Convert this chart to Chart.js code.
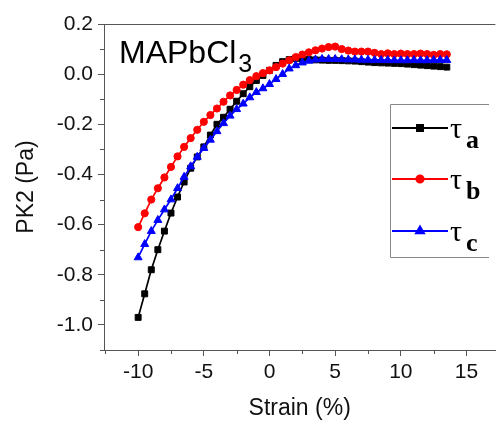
<!DOCTYPE html>
<html>
<head>
<meta charset="utf-8">
<script src="https://cdn.jsdelivr.net/npm/chart.js@4.4.1/dist/chart.umd.min.js"></script>
<style>
  html, body { margin: 0; padding: 0; background: #fff; }
</style>
</head>
<body>
<canvas id="chart" width="501" height="431"></canvas>
<script>
// strain values (%)
const strain = [-10, -9.5, -9, -8.5, -8, -7.5, -7, -6.5, -6, -5.5, -5, -4.5, -4, -3.5, -3, -2.5, -2, -1.5, -1, -0.5,
  0, 0.5, 1, 1.5, 2, 2.5, 3, 3.5, 4, 4.5, 5, 5.5, 6, 6.5, 7, 7.5, 8, 8.5, 9, 9.5,
  10, 10.5, 11, 11.5, 12, 12.5, 13, 13.5];

// PK2 stress (Pa)
const tauA = [-0.97, -0.876, -0.78, -0.70, -0.626, -0.554, -0.49, -0.43, -0.375, -0.33, -0.29, -0.243, -0.2, -0.172, -0.14, -0.108, -0.078, -0.05, -0.025, -0.005,
  0.015, 0.035, 0.05, 0.058, 0.063, 0.06, 0.058, 0.057, 0.056, 0.055, 0.055, 0.054, 0.053, 0.052, 0.05, 0.048, 0.046, 0.045, 0.044, 0.043,
  0.042, 0.04, 0.038, 0.036, 0.034, 0.032, 0.03, 0.028];

const tauB = [-0.61, -0.555, -0.50, -0.455, -0.412, -0.37, -0.328, -0.29, -0.255, -0.222, -0.19, -0.163, -0.137, -0.11, -0.085, -0.063, -0.042, -0.024, -0.008, 0.004,
  0.015, 0.028, 0.042, 0.055, 0.068, 0.078, 0.087, 0.095, 0.102, 0.108, 0.11, 0.1, 0.094, 0.09, 0.09, 0.09, 0.085, 0.08, 0.083, 0.08,
  0.082, 0.08, 0.08, 0.082, 0.08, 0.077, 0.08, 0.079];

const tauC = [-0.731, -0.678, -0.626, -0.582, -0.54, -0.5, -0.455, -0.41, -0.368, -0.33, -0.295, -0.262, -0.228, -0.196, -0.166, -0.14, -0.118, -0.093, -0.072, -0.057,
  -0.04, -0.02, 0.0, 0.022, 0.035, 0.046, 0.053, 0.058, 0.06, 0.06, 0.06, 0.059, 0.058, 0.058, 0.057, 0.057, 0.056, 0.056, 0.056, 0.055,
  0.055, 0.055, 0.056, 0.055, 0.055, 0.056, 0.056, 0.056];

const xTicks = [-10, -5, 0, 5, 10, 15];
const xMinorTicks = [-12.5, -7.5, -2.5, 2.5, 7.5, 12.5];
const yTicks = [-1.0, -0.8, -0.6, -0.4, -0.2, 0.0, 0.2];
const yMinorTicks = [-1.1, -0.9, -0.7, -0.5, -0.3, -0.1, 0.1];

const seriesNames = ['a', 'b', 'c'];
const seriesColors = ['#000000', '#ff0000', '#0000ff'];
const seriesMarkers = ['rect', 'circle', 'triangle'];
const markerSizes = [4.2, 3.6, 4.6];

const sans = "'Liberation Sans', Arial, sans-serif";
const axisColor = '#555';

function toPoints(ys) {
  return strain.map((x, i) => ({ x: x, y: ys[i] }));
}

// extra drawing: top frame, minor ticks, sample label and legend
const extras = {
  id: 'extras',
  afterDraw(chart) {
    const ctx = chart.ctx;
    const area = chart.chartArea;
    const xs = chart.scales.x;
    const ys = chart.scales.y;
    ctx.save();

    ctx.strokeStyle = axisColor;
    ctx.lineWidth = 1;
    ctx.beginPath();
    ctx.moveTo(area.left, area.top + 0.5);
    ctx.lineTo(area.right, area.top + 0.5);
    xMinorTicks.forEach(v => {
      const px = Math.round(xs.getPixelForValue(v)) + 0.5;
      ctx.moveTo(px, area.bottom);
      ctx.lineTo(px, area.bottom + 4);
    });
    yMinorTicks.forEach(v => {
      const py = Math.round(ys.getPixelForValue(v)) + 0.5;
      ctx.moveTo(area.left, py);
      ctx.lineTo(area.left - 4, py);
    });
    ctx.stroke();

    // sample label
    ctx.fillStyle = '#000';
    ctx.textBaseline = 'alphabetic';
    ctx.textAlign = 'left';
    ctx.font = '32px ' + sans;
    ctx.fillText('MAPbCl', 119, 63);
    const w = ctx.measureText('MAPbCl').width;
    ctx.font = '25px ' + sans;
    ctx.fillText('3', 119 + w + 2, 72);

    // legend frame (right side runs off the picture)
    ctx.strokeStyle = '#888';
    ctx.lineWidth = 1;
    ctx.beginPath();
    ctx.moveTo(489, 104.5);
    ctx.lineTo(390.5, 104.5);
    ctx.lineTo(390.5, 257.5);
    ctx.lineTo(489, 257.5);
    ctx.stroke();
    const rowY = [128, 179, 231];
    seriesNames.forEach((name, i) => {
      const y = rowY[i];
      ctx.strokeStyle = seriesColors[i];
      ctx.lineWidth = 2;
      ctx.beginPath();
      ctx.moveTo(392, y);
      ctx.lineTo(448, y);
      ctx.stroke();
      ctx.fillStyle = seriesColors[i];
      Chart.helpers.drawPoint(ctx, {
        pointStyle: seriesMarkers[i],
        radius: markerSizes[i],
        rotation: 0,
        borderWidth: 1
      }, 420, y);
      ctx.fillStyle = '#000';
      ctx.font = "30px 'Liberation Serif', 'Times New Roman', serif";
      ctx.fillText('\u03c4', 450, y + 10);
      ctx.font = "bold 26px 'Liberation Serif', 'Times New Roman', serif";
      ctx.fillText(name, 466, y + 20);
    });
    ctx.restore();
  }
};

const datasets = [tauA, tauB, tauC].map((ys, i) => ({
  label: '\u03c4' + seriesNames[i],
  data: toPoints(ys),
  borderColor: seriesColors[i],
  backgroundColor: seriesColors[i],
  borderWidth: 1.7,
  pointStyle: seriesMarkers[i],
  pointRadius: markerSizes[i],
  pointBorderWidth: 1,
  tension: 0,
  order: 2 - i
}));

new Chart(document.getElementById('chart').getContext('2d'), {
  type: 'line',
  data: { datasets },
  options: {
    responsive: false,
    animation: false,
    devicePixelRatio: 1,
    layout: { padding: { top: 24, right: 0, left: 0, bottom: 0 } },
    plugins: {
      legend: { display: false },
      tooltip: { enabled: false }
    },
    scales: {
      x: {
        type: 'linear',
        min: -12.6,
        max: 17.2,
        afterFit(scale) { scale.height = 81; },
        afterBuildTicks(scale) { scale.ticks = xTicks.map(v => ({ value: v })); },
        grid: { drawOnChartArea: false, drawTicks: true, tickLength: 6, color: axisColor },
        border: { display: true, color: axisColor, width: 1 },
        ticks: {
          color: '#111',
          padding: 4,
          maxRotation: 0,
          font: { family: sans, size: 21 },
          callback: v => String(v)
        },
        title: {
          display: true,
          text: 'Strain (%)',
          color: '#111',
          font: { family: sans, size: 23 },
          padding: { top: 0, bottom: 9 }
        }
      },
      y: {
        type: 'linear',
        min: -1.1,
        max: 0.2,
        afterFit(scale) { scale.width = 104; },
        afterBuildTicks(scale) { scale.ticks = yTicks.map(v => ({ value: v })); },
        grid: { drawOnChartArea: false, drawTicks: true, tickLength: 6, color: axisColor },
        border: { display: true, color: axisColor, width: 1 },
        ticks: {
          color: '#111',
          padding: 5,
          font: { family: sans, size: 21 },
          callback: v => v.toFixed(1)
        },
        title: {
          display: true,
          text: 'PK2 (Pa)',
          color: '#111',
          font: { family: sans, size: 23 },
          padding: { top: 13, bottom: 0 }
        }
      }
    }
  },
  plugins: [extras]
});
</script>
</body>
</html>
